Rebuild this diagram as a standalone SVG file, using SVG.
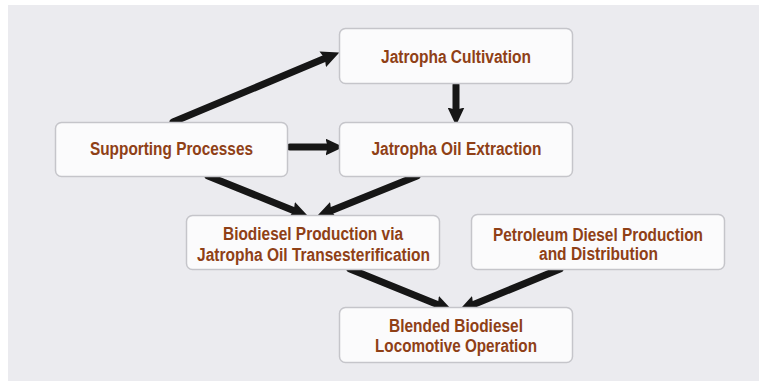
<svg xmlns="http://www.w3.org/2000/svg" width="761" height="381" viewBox="0 0 761 381">
<defs>
<style>
.box{fill:#fbfbfc;stroke:#c5c5ca;stroke-width:1.5}
.t{font-family:"Liberation Sans",Arial,sans-serif;font-weight:bold;font-size:18px;fill:#8f4016;text-anchor:middle}
.c{stroke:#161616;stroke-width:7;stroke-linecap:round;fill:none;marker-end:url(#ah)}
</style>
<marker id="ah" markerUnits="userSpaceOnUse" markerWidth="18" markerHeight="17" refX="4" refY="7.5" orient="auto" viewBox="0 0 16 15">
<path d="M0,0 L16,7.5 L0,15 L2,7.5 z" fill="#161616"/>
</marker>
</defs>
<rect x="0" y="0" width="761" height="381" fill="#ffffff"/>
<rect x="8" y="5" width="751" height="376" fill="#ebebef"/>
<g id="connectors">
<line class="c" x1="173" y1="122" x2="326.9" y2="57.6"/>
<line class="c" x1="290" y1="147" x2="330" y2="147"/>
<line class="c" x1="456" y1="85" x2="456" y2="112"/>
<line class="c" x1="208" y1="176" x2="295.9" y2="211.5"/>
<line class="c" x1="417" y1="176" x2="329.1" y2="211.5"/>
<line class="c" x1="350" y1="269" x2="439.9" y2="305.5"/>
<line class="c" x1="560" y1="269" x2="471.1" y2="305.5"/>
</g>
<g id="cultivation">
<rect class="box" x="339.5" y="28.5" width="233" height="55" rx="6"/>
<text class="t" x="456" y="62.5" textLength="150" lengthAdjust="spacingAndGlyphs">Jatropha Cultivation</text>
</g>
<g id="supporting">
<rect class="box" x="55.5" y="122.5" width="232" height="54" rx="6"/>
<text class="t" x="171.5" y="155" textLength="163" lengthAdjust="spacingAndGlyphs">Supporting Processes</text>
</g>
<g id="extraction">
<rect class="box" x="339.5" y="122.5" width="233" height="54" rx="6"/>
<text class="t" x="456.5" y="155" textLength="170" lengthAdjust="spacingAndGlyphs">Jatropha Oil Extraction</text>
</g>
<g id="biodiesel">
<rect class="box" x="186.5" y="215.5" width="253" height="54" rx="6"/>
<text class="t" x="313" y="240" textLength="180" lengthAdjust="spacingAndGlyphs">Biodiesel Production via</text>
<text class="t" x="313.5" y="260.5" textLength="233" lengthAdjust="spacingAndGlyphs">Jatropha Oil Transesterification</text>
</g>
<g id="petroleum">
<rect class="box" x="471.5" y="214.5" width="253" height="55" rx="6"/>
<text class="t" x="598" y="240.5" textLength="210" lengthAdjust="spacingAndGlyphs">Petroleum Diesel Production</text>
<text class="t" x="598.5" y="260" textLength="119" lengthAdjust="spacingAndGlyphs">and Distribution</text>
</g>
<g id="blended">
<rect class="box" x="339.5" y="307.5" width="233" height="55" rx="6"/>
<text class="t" x="456" y="331.5" textLength="134" lengthAdjust="spacingAndGlyphs">Blended Biodiesel</text>
<text class="t" x="456" y="351.5" textLength="162" lengthAdjust="spacingAndGlyphs">Locomotive Operation</text>
</g>
</svg>
